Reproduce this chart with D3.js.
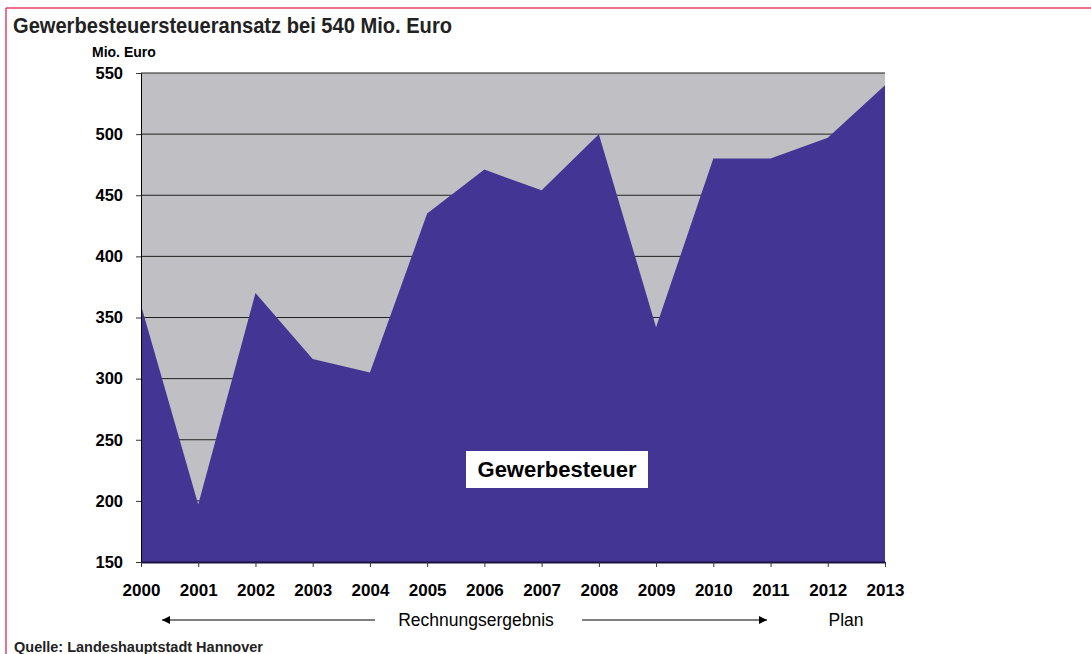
<!DOCTYPE html>
<html>
<head>
<meta charset="utf-8">
<title>Gewerbesteuer</title>
<script src="https://cdn.jsdelivr.net/npm/d3@7"></script>
<style>
  body { margin: 0; background: #fff; }
  text { font-family: "Liberation Sans", Arial, sans-serif; }
</style>
</head>
<body>
<script>
const years = [2000, 2001, 2002, 2003, 2004, 2005, 2006, 2007, 2008, 2009, 2010, 2011, 2012, 2013];
const values = [360, 197, 370, 316, 305, 435, 471, 454, 500, 342, 480, 480, 497, 540];
const yTicks = [150, 200, 250, 300, 350, 400, 450, 500, 550];

const w = 1091, h = 654;
const plotL = 141, plotR = 885, plotT = 73, plotB = 562;

const svg = d3.select("body").append("svg")
  .attr("width", w).attr("height", h);

// pink frame
svg.append("line").attr("x1", 6).attr("x2", w).attr("y1", 8).attr("y2", 8)
  .attr("stroke", "#e8416a").attr("stroke-width", 1.5);
svg.append("line").attr("x1", 6).attr("x2", 6).attr("y1", 8).attr("y2", h)
  .attr("stroke", "#e8416a").attr("stroke-width", 1.5);

const x = d3.scaleLinear().domain([2000, 2013]).range([plotL, plotR]);
const y = d3.scaleLinear().domain([150, 550]).range([plotB, plotT]);

// plot background
svg.append("rect").attr("x", plotL).attr("y", plotT)
  .attr("width", plotR - plotL).attr("height", plotB - plotT)
  .attr("fill", "#c0c0c4");

// gridlines
svg.append("g").selectAll("line").data(yTicks).enter().append("line")
  .attr("x1", plotL).attr("x2", plotR)
  .attr("y1", d => y(d)).attr("y2", d => y(d))
  .attr("stroke", "#222").attr("stroke-width", 1);

// area
const area = d3.area()
  .x((d, i) => x(years[i]))
  .y0(y(150))
  .y1(d => y(d));
svg.append("path").datum(values)
  .attr("d", area)
  .attr("fill", "#433594");

// y axis
const yAxis = d3.axisLeft(y).tickValues(yTicks).tickSize(5).tickPadding(13);
const gy = svg.append("g").attr("transform", `translate(${plotL},0)`).call(yAxis);
gy.select(".domain").attr("stroke", "#000");
gy.selectAll(".tick line").attr("stroke", "#333");
gy.selectAll("text").attr("font-size", 16.5).attr("font-weight", "bold")
  .attr("fill", "#000").attr("font-family", "Liberation Sans, Arial, sans-serif");

// x axis
const xAxis = d3.axisBottom(x).tickValues(years).tickFormat(d3.format("d"))
  .tickSize(5).tickSizeOuter(0).tickPadding(17);
const gx = svg.append("g").attr("transform", `translate(0,${plotB})`).call(xAxis);
gx.select(".domain").attr("stroke", "#1a1340").attr("stroke-width", 2);
gx.selectAll(".tick line").attr("stroke", "#333");
gx.selectAll("text").attr("font-size", 17).attr("font-weight", "bold")
  .attr("fill", "#000").attr("font-family", "Liberation Sans, Arial, sans-serif");

// unit label
svg.append("text").attr("x", 92).attr("y", 57)
  .attr("font-size", 14).attr("font-weight", "bold").text("Mio. Euro");

// title
svg.append("text").attr("x", 13).attr("y", 33)
  .attr("font-size", 22).attr("font-weight", "bold").attr("fill", "#222")
  .attr("textLength", 439).attr("lengthAdjust", "spacingAndGlyphs")
  .text("Gewerbesteuersteueransatz bei 540 Mio. Euro");

// series label
svg.append("rect").attr("x", 466).attr("y", 451).attr("width", 182).attr("height", 37)
  .attr("fill", "#fff");
svg.append("text").attr("x", 557).attr("y", 477).attr("text-anchor", "middle")
  .attr("font-size", 22).attr("font-weight", "bold").text("Gewerbesteuer");

// arrows
const defs = svg.append("defs");
defs.append("marker").attr("id", "arr").attr("viewBox", "0 0 10 10")
  .attr("refX", 10).attr("refY", 5).attr("markerWidth", 10).attr("markerHeight", 8)
  .attr("markerUnits", "userSpaceOnUse").attr("orient", "auto")
  .append("path").attr("d", "M0,0L10,5L0,10Z").attr("fill", "#000");
svg.append("line").attr("x1", 375).attr("x2", 162).attr("y1", 620).attr("y2", 620)
  .attr("stroke", "#555").attr("stroke-width", 1.5).attr("marker-end", "url(#arr)");
svg.append("line").attr("x1", 582).attr("x2", 767).attr("y1", 620).attr("y2", 620)
  .attr("stroke", "#555").attr("stroke-width", 1.5).attr("marker-end", "url(#arr)");
svg.append("text").attr("x", 476).attr("y", 626).attr("text-anchor", "middle")
  .attr("font-size", 17.5).text("Rechnungsergebnis");
svg.append("text").attr("x", 846).attr("y", 626).attr("text-anchor", "middle")
  .attr("font-size", 17.5).text("Plan");

// source
svg.append("text").attr("x", 14).attr("y", 652)
  .attr("font-size", 14.5).attr("font-weight", "bold").attr("fill", "#222")
  .attr("textLength", 249).attr("lengthAdjust", "spacingAndGlyphs")
  .text("Quelle: Landeshauptstadt Hannover");
</script>
</body>
</html>
